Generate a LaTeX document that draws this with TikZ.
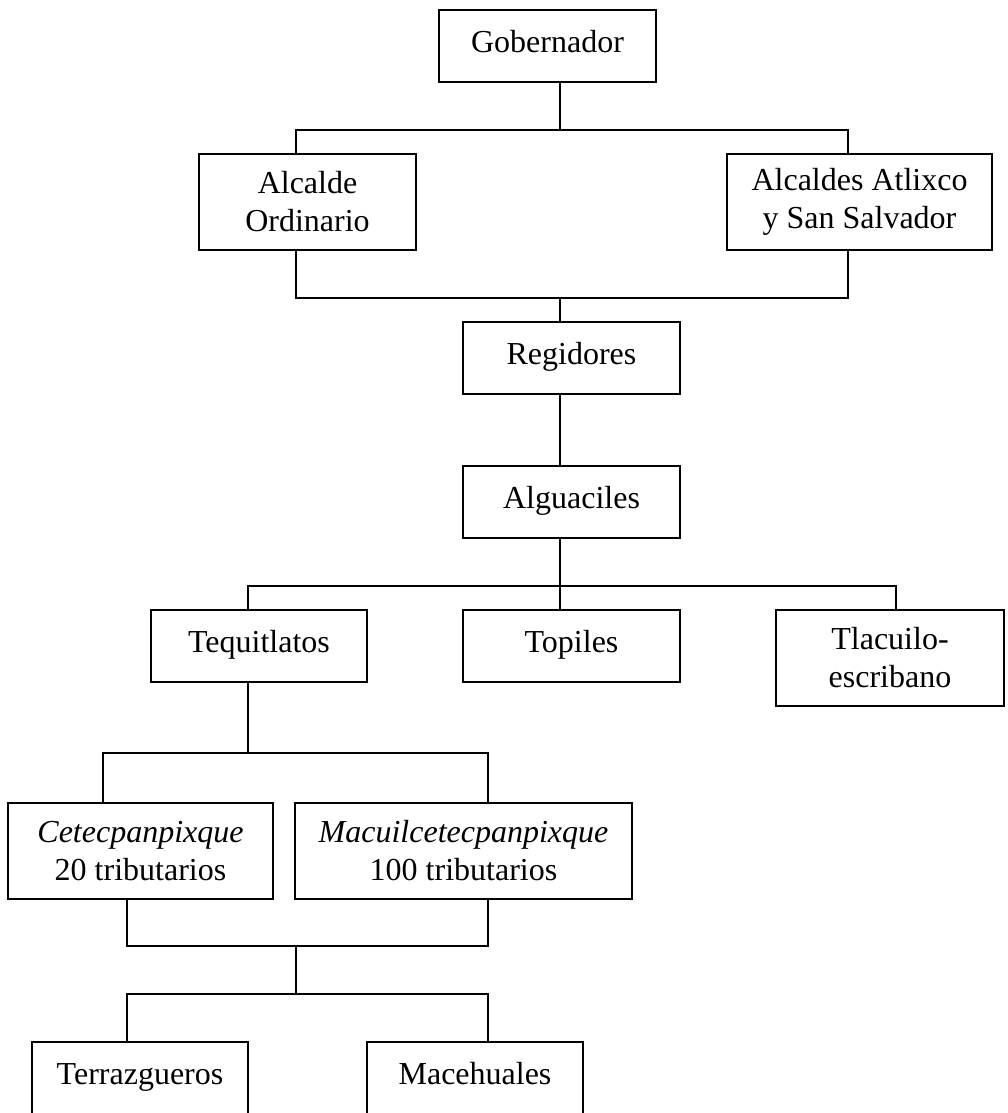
\documentclass[tikz,border=0pt]{standalone}
\usepackage{fontspec}
\setmainfont{Liberation Serif}
\begin{document}
\begin{tikzpicture}[x=0.75pt,y=-0.75pt,
  bx/.style 2 args={draw, rectangle, line width=1.5pt, inner sep=0pt,
    minimum width=#1*0.75pt, minimum height=#2*0.75pt, align=center,
    font=\fontsize{24}{28.5}\selectfont},
  one/.style={text height=16.8pt, text depth=7.7pt},
  conn/.style={line width=1.5pt, line cap=rect}]
\useasboundingbox (0,0) rectangle (1007,1113);
% boxes
\node[bx={217}{72}, one] (gob)  at (547.5,46)  {Gobernador};
\node[bx={217}{96}]      (alc)  at (307.5,202) {Alcalde\\Ordinario};
\node[bx={265}{96}]      (alcs) at (859.5,202) {Alcaldes Atlixco\\y San Salvador};
\node[bx={217}{72}, one] (reg)  at (571.5,358) {Regidores};
\node[bx={217}{72}, one] (alg)  at (571.5,502) {Alguaciles};
\node[bx={216}{72}, one] (teq)  at (259,646)   {Tequitlatos};
\node[bx={217}{72}, one] (top)  at (571.5,646) {Topiles};
\node[bx={228}{96}]      (tla)  at (890,658)   {Tlacuilo-\\escribano};
\node[bx={265}{96}]      (cet)  at (140.5,851) {\textit{Cetecpanpixque}\\20 tributarios};
\node[bx={337}{96}]      (mac)  at (463.5,851) {\textit{Macuilcetecpanpixque}\\100 tributarios};
\node[bx={216}{72}, one] (ter)  at (140,1078)  {Terrazgueros};
\node[bx={216}{72}, one] (mace) at (475,1078)  {Macehuales};
% bus coordinates
\coordinate (b1L) at (296,130); \coordinate (b1M) at (560,130); \coordinate (b1R) at (848,130);
\coordinate (b2L) at (296,298); \coordinate (b2M) at (560,298); \coordinate (b2R) at (848,298);
\coordinate (b3L) at (248,586); \coordinate (b3M) at (560,586); \coordinate (b3R) at (896,586);
\coordinate (b4L) at (103,753); \coordinate (b4M) at (248,753); \coordinate (b4R) at (488,753);
\coordinate (b5L) at (127,946); \coordinate (b5M) at (296,946); \coordinate (b5R) at (488,946);
\coordinate (b6L) at (127,994); \coordinate (b6M) at (296,994); \coordinate (b6R) at (488,994);
% connectors
\draw[conn] (gob.south -| b1M) -- (b1M);
\draw[conn] (alc.north -| b1L) -- (b1L) -- (b1R) -- (alcs.north -| b1R);
\draw[conn] (alc.south -| b2L) -- (b2L) -- (b2R) -- (alcs.south -| b2R);
\draw[conn] (b2M) -- (reg.north -| b2M);
\draw[conn] (reg.south -| b2M) -- (alg.north -| b2M);
\draw[conn] (alg.south -| b3M) -- (b3M);
\draw[conn] (teq.north -| b3L) -- (b3L) -- (b3R) -- (tla.north -| b3R);
\draw[conn] (b3M) -- (top.north -| b3M);
\draw[conn] (teq.south -| b4M) -- (b4M);
\draw[conn] (cet.north -| b4L) -- (b4L) -- (b4R) -- (mac.north -| b4R);
\draw[conn] (cet.south -| b5L) -- (b5L) -- (b5R) -- (mac.south -| b5R);
\draw[conn] (b5M) -- (b6M);
\draw[conn] (ter.north -| b6L) -- (b6L) -- (b6R) -- (mace.north -| b6R);
\end{tikzpicture}
\end{document}
